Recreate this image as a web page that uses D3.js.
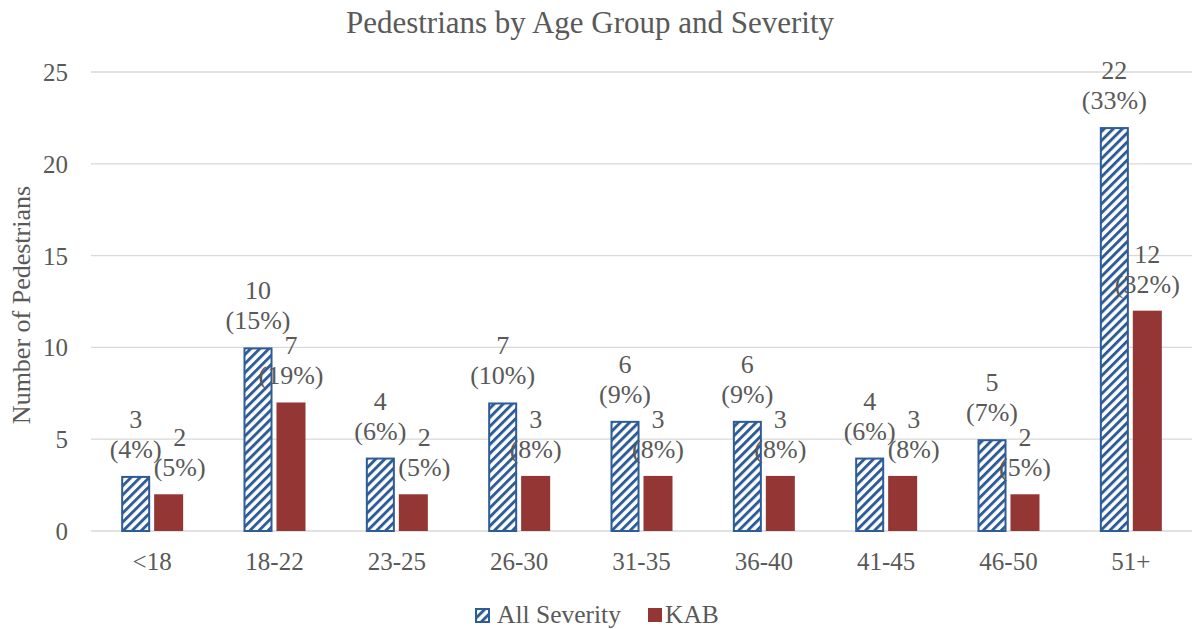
<!DOCTYPE html>
<html>
<head>
<meta charset="utf-8">
<script src="https://cdn.jsdelivr.net/npm/d3@7"></script>
<style>
  body { margin: 0; background: #fff; }
</style>
</head>
<body>
<div id="chart"></div>
<script>
// chart data
const ageGroups = ["<18", "18-22", "23-25", "26-30", "31-35", "36-40", "41-45", "46-50", "51+"];
const allSeverity = [3, 10, 4, 7, 6, 6, 4, 5, 22];
const allSeverityPct = ["4%", "15%", "6%", "10%", "9%", "9%", "6%", "7%", "33%"];
const kab = [2, 7, 2, 3, 3, 3, 3, 2, 12];
const kabPct = ["5%", "19%", "5%", "8%", "8%", "8%", "8%", "5%", "32%"];
const yTicks = [0, 5, 10, 15, 20, 25];
const seriesNames = ["All Severity", "KAB"];

const W = 1202, H = 629;
const margin = { top: 72, right: 10, bottom: 98, left: 91 };
const width = W - margin.left - margin.right;
const height = H - margin.top - margin.bottom;

const FONT = '"Liberation Serif", "Times New Roman", serif';
const grey = "#595959";
const blue = "#2E5C96";
const red = "#943634";

const svg = d3.select("#chart").append("svg")
    .attr("width", W)
    .attr("height", H)
    .style("font-family", FONT);

// diagonal hatch for the "All Severity" bars
const defs = svg.append("defs");
const pat = defs.append("pattern")
    .attr("id", "hatch")
    .attr("patternUnits", "userSpaceOnUse")
    .attr("width", 6.4)
    .attr("height", 6.4)
    .attr("patternTransform", "rotate(45)");
pat.append("rect").attr("width", 6.4).attr("height", 6.4).attr("fill", "#fff");
pat.append("rect").attr("width", 2.9).attr("height", 6.4).attr("fill", blue);

const g = svg.append("g")
    .attr("transform", `translate(${margin.left},${margin.top})`);

const x = d3.scaleBand()
    .domain(ageGroups)
    .range([0, width]);

// the two bars of a group: 28px + 7px gap + 27px
const xSub = d3.scaleBand()
    .domain(seriesNames)
    .range([0, 62])
    .paddingInner(0.12);

const y = d3.scaleLinear()
    .domain([0, 25])
    .range([height, 0]);

// gridlines
g.append("g")
    .selectAll("line")
    .data(yTicks)
    .join("line")
    .attr("x1", 0)
    .attr("x2", width)
    .attr("y1", d => y(d))
    .attr("y2", d => y(d))
    .attr("stroke", "#D9D9D9")
    .attr("stroke-width", 1.3);

// y axis labels
const yAxis = g.append("g")
    .call(d3.axisLeft(y).tickValues(yTicks).tickSize(0).tickPadding(23));
yAxis.select(".domain").remove();
yAxis.selectAll("text")
    .style("font-size", "25px")
    .style("font-family", FONT)
    .attr("fill", grey)
    .attr("dy", "0.34em");

// x axis labels
const xAxis = g.append("g")
    .attr("transform", `translate(0,${height})`)
    .call(d3.axisBottom(x).tickSize(0).tickPadding(21));
xAxis.select(".domain").remove();
xAxis.selectAll("text")
    .style("font-size", "25px")
    .style("font-family", FONT)
    .attr("fill", grey);

const groupX = d => x(d) + x.bandwidth() / 2 - 31;

const rows = ageGroups.map((a, i) => ({ a, all: allSeverity[i], allPct: allSeverityPct[i], kab: kab[i], kabPct: kabPct[i] }));

// bars
g.append("g")
    .selectAll("rect")
    .data(rows)
    .join("rect")
    .attr("x", d => groupX(d.a) + xSub("All Severity") + 1)
    .attr("y", d => y(d.all) + 1)
    .attr("width", xSub.bandwidth() - 2)
    .attr("height", d => y(0) - y(d.all) - 1)
    .attr("fill", "url(#hatch)")
    .attr("stroke", blue)
    .attr("stroke-width", 2);

g.append("g")
    .selectAll("rect")
    .data(rows)
    .join("rect")
    .attr("x", d => groupX(d.a) + xSub("KAB"))
    .attr("y", d => y(d.kab))
    .attr("width", xSub.bandwidth())
    .attr("height", d => y(0) - y(d.kab))
    .attr("fill", red);

// data labels: value on top line, share in brackets below
function addLabels(key, pctKey, series) {
    const lab = g.append("g")
        .selectAll("text")
        .data(rows)
        .join("text")
        .attr("text-anchor", "middle")
        .attr("fill", grey)
        .style("font-size", "26px")
        .style("font-family", FONT)
        .attr("transform", d => {
            const cx = groupX(d.a) + xSub(series) + xSub.bandwidth() / 2;
            return `translate(${cx},${y(d[key]) - 18})`;
        });
    lab.append("tspan").attr("x", 0).attr("y", -30).text(d => d[key]);
    lab.append("tspan").attr("x", 0).attr("y", 0).text(d => `(${d[pctKey]})`);
    return lab;
}
const allLabels = addLabels("all", "allPct", "All Severity");
const kabLabels = addLabels("kab", "kabPct", "KAB");

// nudge a KAB label to the right when it runs into the All Severity label
const allNodes = allLabels.nodes();
kabLabels.each(function (d, i) {
    const a = allNodes[i].getBBox(), k = this.getBBox();
    const aTop = y(d.all) - 18 - 30 - 17, aBottom = y(d.all) - 18 + 5;
    const kTop = y(d.kab) - 18 - 30 - 17;
    const aRight = groupX(d.a) + xSub("All Severity") + xSub.bandwidth() / 2 + a.width / 2;
    const kLeft = groupX(d.a) + xSub("KAB") + xSub.bandwidth() / 2 - k.width / 2;
    if (aBottom > kTop && aRight > kLeft && aTop < y(d.kab)) {
        const cx = groupX(d.a) + xSub("KAB") + xSub.bandwidth() / 2 + 11;
        d3.select(this).attr("transform", `translate(${cx},${y(d.kab) - 18})`);
    }
});

// title
svg.append("text")
    .attr("x", 590)
    .attr("y", 33)
    .attr("text-anchor", "middle")
    .attr("fill", grey)
    .style("font-size", "31px")
    .text("Pedestrians by Age Group and Severity");

// y axis title
svg.append("text")
    .attr("transform", `translate(30,305) rotate(-90)`)
    .attr("text-anchor", "middle")
    .attr("fill", grey)
    .style("font-size", "26px")
    .text("Number of Pedestrians");

// legend
const legend = svg.append("g").attr("transform", "translate(475,608)");
legend.append("rect").attr("x", 1).attr("y", 1).attr("width", 13).attr("height", 13)
    .attr("fill", "url(#hatch)").attr("stroke", blue).attr("stroke-width", 2);
legend.append("text").attr("x", 22).attr("y", 15).attr("fill", grey)
    .style("font-size", "25.5px").text("All Severity");
legend.append("rect").attr("x", 173).attr("y", 0).attr("width", 14).attr("height", 14).attr("fill", red);
legend.append("text").attr("x", 190).attr("y", 15).attr("fill", grey)
    .style("font-size", "25.5px").text("KAB");
</script>
</body>
</html>
